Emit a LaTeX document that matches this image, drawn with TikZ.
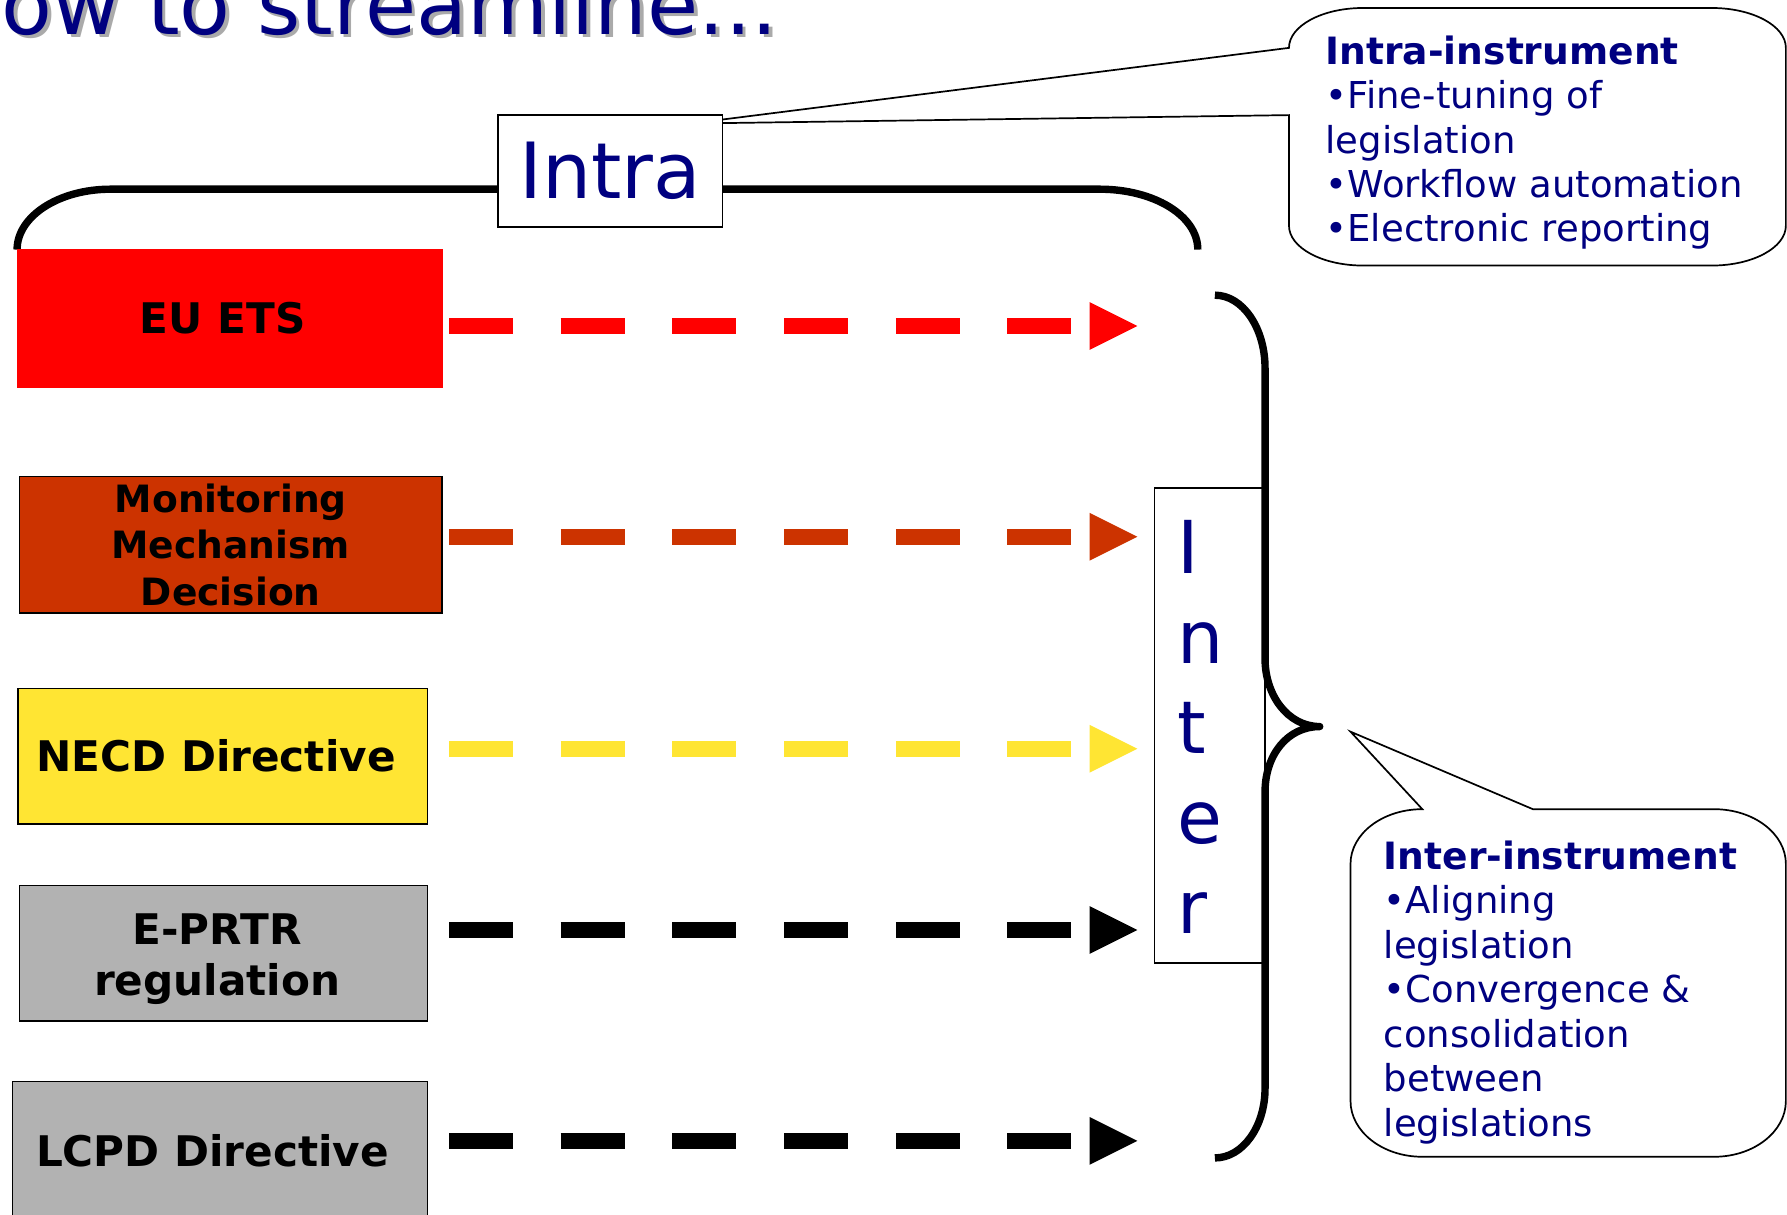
\documentclass[tikz,border=0pt]{standalone}
\usepackage{fontspec}
\setmainfont{DejaVu Sans}
\definecolor{navy}{RGB}{0,0,128}
\definecolor{eured}{RGB}{255,0,0}
\definecolor{mmdred}{RGB}{204,51,0}
\definecolor{necdyel}{RGB}{255,229,51}
\definecolor{grayfill}{RGB}{178,178,178}
\definecolor{shadowgray}{RGB}{170,170,170}
\tikzset{
  instbox/.style={draw=black, line width=1.5pt, inner sep=0pt, align=center, text=black, font=\fontsize{37}{45}\selectfont\bfseries},
  flow/.style={line width=14pt, dash pattern=on 56pt off 42pt, line cap=butt},
  thickbrace/.style={line width=6.5pt, line join=round, line cap=butt},
  labelbox/.style={draw=black, fill=white, line width=1.5pt, inner sep=0pt},
  bubble/.style={draw=black, fill=white, line width=1.5pt, line join=miter},
  bubbletext/.style={anchor=north west, inner sep=0pt, align=left, text=navy, font=\fontsize{32.5}{39}\selectfont},
  titletext/.style={anchor=base east, inner sep=0pt, font=\fontsize{73}{86}\selectfont},
}
\begin{document}
\begin{tikzpicture}[x=1pt,y=-1pt]
\useasboundingbox (0,0) rectangle (1568,1066);

% title
\node[titletext, text=shadowgray] (titleshadow) at (686,33) {How to streamline...};
\node[titletext, text=navy] (title) at (683,30) {How to streamline...};

% top callout (Intra-instrument)
\draw[bubble] (1131,42) -- (606,108.4) -- (1131,101) -- (1131,198)
  .. controls (1131,217.3) and (1160.1,233) .. (1196,233) -- (1502,233)
  .. controls (1537.9,233) and (1567,217.3) .. (1567,198) -- (1567,42)
  .. controls (1567,22.7) and (1537.9,7) .. (1502,7) -- (1196,7)
  .. controls (1160.1,7) and (1131,22.7) .. (1131,42) -- cycle;
\node[bubbletext] (intratext) at (1163,31) {{\fontsize{33}{39}\selectfont\bfseries Intra-instrument}\\•Fine-tuning of\\legislation\\•Workflow automation\\•Electronic reporting};

% top bracket
\draw[thickbrace] (15,219) .. controls (15,189.7) and (51.7,166) .. (97,166) -- (965,166)
  .. controls (1012.5,166) and (1051,189.3) .. (1051,219);

% Intra label
\node[labelbox, minimum width=197pt, minimum height=98pt, text=navy, font=\fontsize{68}{80}\selectfont] (intra) at (535.5,150) {Intra};

% instrument boxes
\node[instbox, fill=eured, draw=eured, minimum width=372pt, minimum height=121pt] (eu) at (202,279.5) {EU ETS\hspace*{13pt}};
\node[instbox, fill=mmdred, minimum width=371pt, minimum height=120pt, font=\fontsize{33}{41}\selectfont\bfseries] (mmd) at (202.5,478) {Monitoring\\Mechanism\\Decision};
\node[instbox, fill=necdyel, minimum width=359pt, minimum height=119pt] (necd) at (195.5,663.5) {NECD Directive\hspace*{12pt}};
\node[instbox, fill=grayfill, minimum width=358pt, minimum height=119pt] (eprtr) at (196,836.5) {\rule{0pt}{37pt}E-PRTR\hspace*{11pt}\\regulation\hspace*{11pt}};
\node[instbox, fill=grayfill, minimum width=364pt, minimum height=122pt] (lcpd) at (193,1010) {LCPD Directive\hspace*{13pt}};

% dashed arrows
\coordinate (s1) at (394,286);  \coordinate (e1) at (998,286);
\coordinate (s2) at (394,471);  \coordinate (e2) at (998,471);
\coordinate (s3) at (394,657);  \coordinate (e3) at (998,657);
\coordinate (s4) at (394,816);  \coordinate (e4) at (998,816);
\coordinate (s5) at (394,1001); \coordinate (e5) at (998,1001);
\draw[flow, eured] (s1) -- ([xshift=-57pt]e1);
\fill[eured] ([xshift=-42pt,yshift=21pt]e1) -- (e1) -- ([xshift=-42pt,yshift=-21pt]e1) -- cycle;
\draw[flow, mmdred] (s2) -- ([xshift=-57pt]e2);
\fill[mmdred] ([xshift=-42pt,yshift=21pt]e2) -- (e2) -- ([xshift=-42pt,yshift=-21pt]e2) -- cycle;
\draw[flow, necdyel] (s3) -- ([xshift=-57pt]e3);
\fill[necdyel] ([xshift=-42pt,yshift=21pt]e3) -- (e3) -- ([xshift=-42pt,yshift=-21pt]e3) -- cycle;
\draw[flow, black] (s4) -- ([xshift=-57pt]e4);
\fill[black] ([xshift=-42pt,yshift=21pt]e4) -- (e4) -- ([xshift=-42pt,yshift=-21pt]e4) -- cycle;
\draw[flow, black] (s5) -- ([xshift=-57pt]e5);
\fill[black] ([xshift=-42pt,yshift=21pt]e5) -- (e5) -- ([xshift=-42pt,yshift=-21pt]e5) -- cycle;

% Inter label
\node[labelbox, minimum width=97pt, minimum height=417pt] (inter) at (1061.5,636.5) {};
\node[anchor=north west, inner sep=0pt, align=left, text=navy, font=\fontsize{64}{79}\selectfont] (intertext) at (1033,456.3) {I\\n\\t\\e\\r};

% right brace
\draw[thickbrace] (1066,259) .. controls (1090.3,259) and (1110,287.7) .. (1110,323) -- (1110,578)
  .. controls (1110,610) and (1130,637.5) .. (1158,637.5)
  .. controls (1130,637.5) and (1110,662) .. (1110,695) -- (1110,955)
  .. controls (1110,988.7) and (1090.3,1016) .. (1066,1016);

% bottom callout (Inter-instrument)
\draw[bubble] (1248,710) -- (1185,642) -- (1345,710) -- (1504,710)
  .. controls (1538.8,710) and (1567,731.5) .. (1567,758) -- (1567,966)
  .. controls (1567,993) and (1538.8,1015) .. (1504,1015) -- (1248,1015)
  .. controls (1213.2,1015) and (1185,993) .. (1185,966) -- (1185,758)
  .. controls (1185,731.5) and (1213.2,710) .. (1248,710) -- cycle;
\node[bubbletext] (intertextbox) at (1214,737.5) {{\fontsize{33}{39}\selectfont\bfseries Inter-instrument}\\•Aligning\\legislation\\•Convergence \&\\consolidation\\between\\legislations};
\end{tikzpicture}
\end{document}
